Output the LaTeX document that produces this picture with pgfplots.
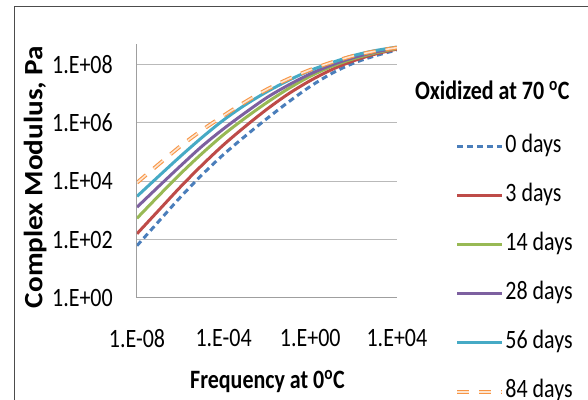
\documentclass[border=0pt]{standalone}
\usepackage{fontspec}
\setmainfont{Carlito}[FakeStretch=0.83]
\newfontfamily\widefont{Carlito}[FakeStretch=1.1]
\usepackage{pgfplots}
\pgfplotsset{compat=1.18}
\definecolor{c0}{HTML}{4A7EBB}
\definecolor{c3}{HTML}{BE4B48}
\definecolor{c14}{HTML}{98B954}
\definecolor{c28}{HTML}{7D60A0}
\definecolor{c56}{HTML}{46AAC5}
\definecolor{c84}{HTML}{F79646}
\begin{document}
\fontsize{26.5bp}{31bp}\selectfont
\begin{tikzpicture}
\begin{axis}[
  scale only axis, width=260bp, height=254bp,
  xmode=log, ymode=log,
  xmin=1e-8, xmax=1e4, ymin=1, ymax=5.1e8,
  axis x line*=bottom, axis y line*=left,
  axis line style={-, gray!75, line width=1bp},
  major tick length=0pt, minor tick num=0,
  xtick={1e-8,1e-4,1,1e4},
  xticklabels={1.E-08,1.E-04,1.E+00,1.E+04},
  ytick={1,1e2,1e4,1e6,1e8},
  yticklabels={1.E+00,1.E+02,1.E+04,1.E+06,1.E+08},
  yticklabel style={anchor=east, inner sep=0pt, xshift=-24bp},
  xticklabel style={anchor=north, inner sep=0pt, yshift=-31bp},
  ymajorgrids, grid style={gray!55, line width=1bp},
  xlabel={\bfseries Frequency at 0\textsuperscript{o}C},
  xlabel style={at={(rel axis cs:0.502,-0.331)}, anchor=center},
  ylabel={\widefont\bfseries Complex Modulus, Pa},
  ylabel style={at={(rel axis cs:-0.392,0.476)}, anchor=center},
  every axis plot/.append style={line width=3bp, smooth, no markers},
  legend style={at={(1.223,0.645)}, anchor=north west, draw=none, fill=none,
    inner sep=0pt, row sep=24bp,
    nodes={inner sep=1.5bp, text height=17bp, text depth=5bp}},
  legend cell align=left,
  legend image code/.code={\draw[#1] (0bp,0bp) -- (45bp,0bp);},
]
\addplot[c0, dash pattern=on 6bp off 4bp] coordinates {
(1e-8,61.7) (1e-7,417) (1e-6,2818) (1e-5,1.66e4) (1e-4,8.32e4) (1e-3,3.55e5)
(1e-2,1.41e6) (1e-1,5.25e6) (1,1.78e7) (10,5.01e7) (100,1.12e8) (1e3,2.00e8) (1e4,3.16e8)};
\addplot[c3] coordinates {
(1e-8,158) (1e-7,1000) (1e-6,6310) (1e-5,3.55e4) (1e-4,1.78e5) (1e-3,7.59e5)
(1e-2,2.95e6) (1e-1,1.00e7) (1,2.82e7) (10,6.76e7) (100,1.35e8) (1e3,2.29e8) (1e4,3.39e8)};
\addplot[c14] coordinates {
(1e-8,537) (1e-7,3162) (1e-6,1.78e4) (1e-5,8.91e4) (1e-4,3.98e5) (1e-3,1.48e6)
(1e-2,5.01e6) (1e-1,1.51e7) (1,3.98e7) (10,8.71e7) (100,1.58e8) (1e3,2.51e8) (1e4,3.55e8)};
\addplot[c28] coordinates {
(1e-8,1288) (1e-7,6607) (1e-6,3.31e4) (1e-5,1.58e5) (1e-4,6.31e5) (1e-3,2.24e6)
(1e-2,7.41e6) (1e-1,2.00e7) (1,4.79e7) (10,9.77e7) (100,1.74e8) (1e3,2.69e8) (1e4,3.72e8)};
\addplot[c56] coordinates {
(1e-8,3020) (1e-7,1.48e4) (1e-6,7.08e4) (1e-5,3.16e5) (1e-4,1.26e6) (1e-3,4.17e6)
(1e-2,1.17e7) (1e-1,2.88e7) (1,6.31e7) (10,1.17e8) (100,2.04e8) (1e3,3.02e8) (1e4,3.98e8)};
\addplot[c84, line width=1.1bp, double=c84!25!white, double distance=1.6bp,
  dash pattern=on 12bp off 10bp] coordinates {
(1e-8,8913) (1e-7,3.80e4) (1e-6,1.58e5) (1e-5,5.62e5) (1e-4,1.78e6) (1e-3,5.25e6)
(1e-2,1.41e7) (1e-1,3.24e7) (1,6.61e7) (10,1.20e8) (100,2.00e8) (1e3,2.88e8) (1e4,3.80e8)};
\legend{0 days, 3 days, 14 days, 28 days, 56 days, 84 days}
\coordinate (ttl) at (rel axis cs:1.069,0.819);
\coordinate (tl) at (rel axis cs:-0.527,1.173);
\coordinate (br) at (rel axis cs:1.735,-0.402);
\coordinate (ftl) at (rel axis cs:-0.473,1.146);
\coordinate (fbr) at (rel axis cs:1.8,-0.5);
\end{axis}
\node[anchor=west, inner sep=0pt] at (ttl) {\bfseries Oxidized at 70 \textsuperscript{o}C};
\draw[black!70, line width=1bp] (ftl) rectangle (fbr);
\pgfresetboundingbox
\path[use as bounding box] (tl) rectangle (br);
\end{tikzpicture}
\end{document}
